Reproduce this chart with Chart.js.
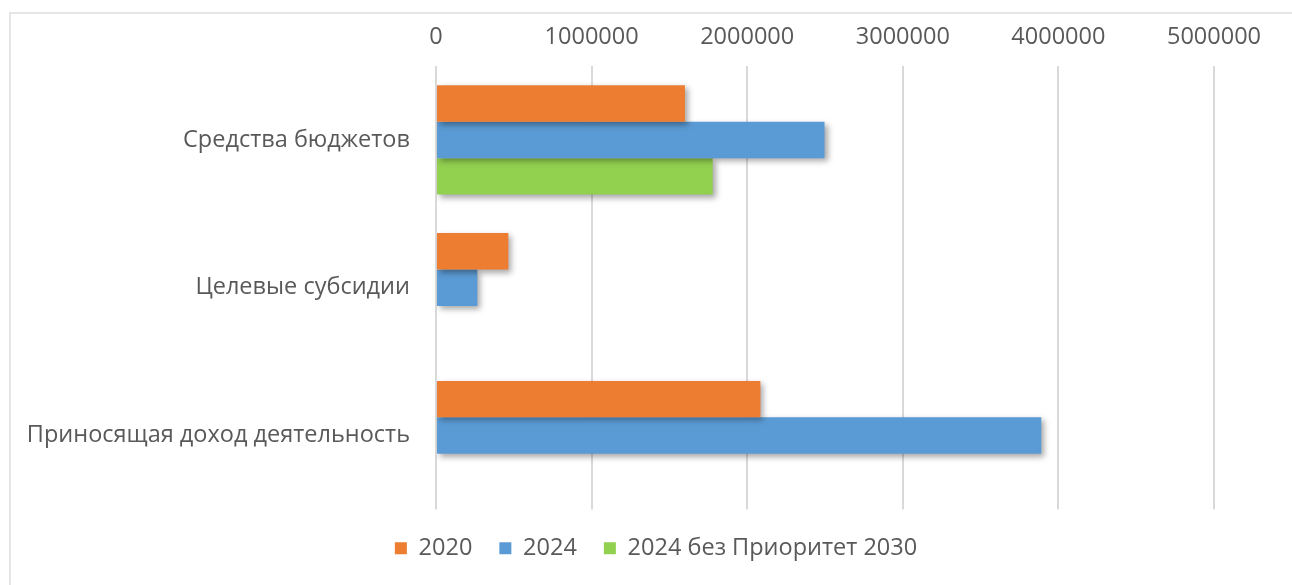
<!DOCTYPE html>
<html>
<head>
<meta charset="utf-8">
<script src="https://cdn.jsdelivr.net/npm/chart.js@4"></script>
<style>
  body { margin: 0; background: #fff; }
  #frame { position: absolute; left: 9px; top: 12px; width: 1300px; height: 600px; border: 2px solid #e6e6e6; }
  #wrap { position: absolute; left: 0; top: 0; width: 1292px; height: 585px; }
</style>
</head>
<body>
<div id="frame"></div>
<div id="wrap"><canvas id="budgetChart" width="1292" height="585"></canvas></div>
<script>
const categories = ['Средства бюджетов', 'Целевые субсидии', 'Приносящая доход деятельность'];
const values2020 = [1600000, 465000, 2085000];
const values2024 = [2497000, 266000, 3890000];
const values2024noPriority = [1778000, null, null];
const xTicks = [0, 1000000, 2000000, 3000000, 4000000, 5000000];

document.addEventListener('DOMContentLoaded', function () {
    const textColor = '#595959';
    const font = { family: '"Open Sans", sans-serif', size: 23.5 };

    // soft drop shadow behind bars, like the office chart
    const barShadow = {
        id: 'barShadow',
        beforeDatasetsDraw(chart) {
            const c = chart.ctx;
            c.save();
            c.shadowColor = 'rgba(0, 0, 0, 0.35)';
            c.shadowBlur = 6;
            c.shadowOffsetX = 3;
            c.shadowOffsetY = 3;
        },
        afterDatasetsDraw(chart) {
            chart.ctx.restore();
        }
    };

    // legend is centred on the whole picture, not on the plot box
    const legendShift = {
        id: 'legendShift',
        afterLayout(chart) {
            chart.legend.left += 49;
            chart.legend.right += 49;
        }
    };

    const ctx = document.getElementById('budgetChart').getContext('2d');
    new Chart(ctx, {
        type: 'bar',
        data: {
            labels: categories,
            datasets: [
                { label: '2020', data: values2020, backgroundColor: '#ED7D31' },
                { label: '2024', data: values2024, backgroundColor: '#5B9BD5' },
                { label: '2024 без Приоритет 2030', data: values2024noPriority, backgroundColor: '#92D050' }
            ]
        },
        options: {
            indexAxis: 'y',
            responsive: false,
            animation: false,
            barPercentage: 1,
            categoryPercentage: 0.74,
            layout: { padding: { left: 0, right: 78, top: 0, bottom: 15 } },
            plugins: {
                legend: {
                    position: 'bottom',
                    labels: {
                        boxWidth: 12,
                        boxHeight: 12,
                        padding: 27,
                        color: textColor,
                        font: font
                    }
                },
                tooltip: { enabled: false }
            },
            scales: {
                x: {
                    position: 'top',
                    min: xTicks[0],
                    max: xTicks[xTicks.length - 1],
                    afterBuildTicks: function (scale) {
                        scale.ticks = xTicks.map(v => ({ value: v }));
                    },
                    afterFit: function (scale) { scale.height = 66; },
                    ticks: {
                        padding: 15,
                        color: textColor,
                        font: font,
                        callback: v => String(v)
                    },
                    grid: { color: '#d9d9d9', lineWidth: 2, drawTicks: false },
                    border: { display: false }
                },
                y: {
                    afterFit: function (scale) { scale.width = 436; },
                    ticks: { padding: 26, color: textColor, font: font },
                    grid: { display: false, drawTicks: false },
                    border: { display: false }
                }
            }
        },
        plugins: [barShadow, legendShift]
    });
});
</script>
</body>
</html>
